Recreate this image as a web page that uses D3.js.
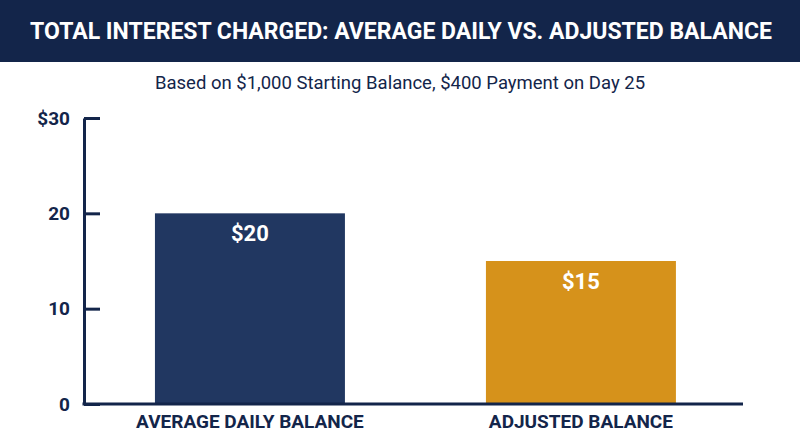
<!DOCTYPE html>
<html>
<head>
<meta charset="utf-8">
<script src="https://cdn.jsdelivr.net/npm/d3@7"></script>
<style>
body { margin: 0; background: #fff; }
svg text { font-family: Roboto, "Noto Sans", sans-serif; }
</style>
</head>
<body>
<svg id="chart" width="800" height="447"></svg>
<script>
var categories = ["AVERAGE DAILY BALANCE", "ADJUSTED BALANCE"];
var values = [20, 15];
var barColors = ["#213761", "#d6921b"];
var yTicks = [0, 10, 20, 30];
var yTickLabels = ["0", "10", "20", "$30"];

var navy = "#13254a";
var svg = d3.select("#chart");

// header band
svg.append("rect")
	.attr("x", 0).attr("y", 0)
	.attr("width", 800).attr("height", 62)
	.attr("fill", navy);

svg.append("text")
	.attr("x", 401).attr("y", 39)
	.attr("text-anchor", "middle")
	.attr("fill", "#fff")
	.style("font-size", "23px")
	.style("font-weight", "bold")
	.text("TOTAL INTEREST CHARGED: AVERAGE DAILY VS. ADJUSTED BALANCE");

svg.append("text")
	.attr("x", 400).attr("y", 89)
	.attr("text-anchor", "middle")
	.attr("fill", navy)
	.style("font-size", "18.5px")
	.text("Based on $1,000 Starting Balance, $400 Payment on Day 25");

var mLeft = 84, mRight = 743, mTop = 118, mBottom = 404;

var x = d3.scaleBand()
	.domain(categories)
	.range([mLeft, mRight])
	.paddingInner(0.426)
	.paddingOuter(0.2085)
	.align(0.514);

var y = d3.scaleLinear()
	.domain([0, 30])
	.range([mBottom, mTop]);

var chart = svg.append("g");

chart.selectAll("rect.bar")
	.data(values)
	.enter().append("rect")
	.attr("class", "bar")
	.attr("x", function(d, i) { return x(categories[i]); })
	.attr("y", function(d) { return y(d); })
	.attr("width", x.bandwidth())
	.attr("height", function(d) { return y(0) - y(d); })
	.attr("fill", function(d, i) { return barColors[i]; });

chart.selectAll("text.val")
	.data(values)
	.enter().append("text")
	.attr("class", "val")
	.attr("x", function(d, i) { return x(categories[i]) + x.bandwidth() / 2; })
	.attr("y", function(d) { return y(d) + 28; })
	.attr("text-anchor", "middle")
	.attr("fill", "#fff")
	.style("font-size", "22px")
	.style("font-weight", "bold")
	.text(function(d) { return "$" + d; });

// y axis with inward ticks
var yAxis = chart.append("g")
	.attr("transform", "translate(" + mLeft + ",0)")
	.call(d3.axisRight(y).tickValues(yTicks).tickSize(16).tickSizeOuter(0)
		.tickFormat(function(d, i) { return yTickLabels[i]; }));
yAxis.select(".domain").attr("stroke", navy).attr("stroke-width", 3);
yAxis.selectAll(".tick line").attr("stroke", navy).attr("stroke-width", 3);
yAxis.selectAll(".tick text")
	.attr("x", -14)
	.attr("text-anchor", "end")
	.attr("fill", navy)
	.style("font-size", "19px")
	.style("font-weight", "bold")
	.style("font-family", "Roboto, sans-serif");

// x axis
var xAxis = chart.append("g")
	.attr("transform", "translate(0," + mBottom + ")")
	.call(d3.axisBottom(x).tickSize(0).tickSizeOuter(0));
xAxis.select(".domain").attr("stroke", navy).attr("stroke-width", 3)
	.attr("d", "M" + (mLeft - 1.5) + ",0H" + mRight);
xAxis.selectAll(".tick text")
	.attr("y", 11)
	.attr("fill", navy)
	.style("font-size", "19px")
	.style("font-weight", "bold")
	.style("font-family", "Roboto, sans-serif");
</script>
</body>
</html>
